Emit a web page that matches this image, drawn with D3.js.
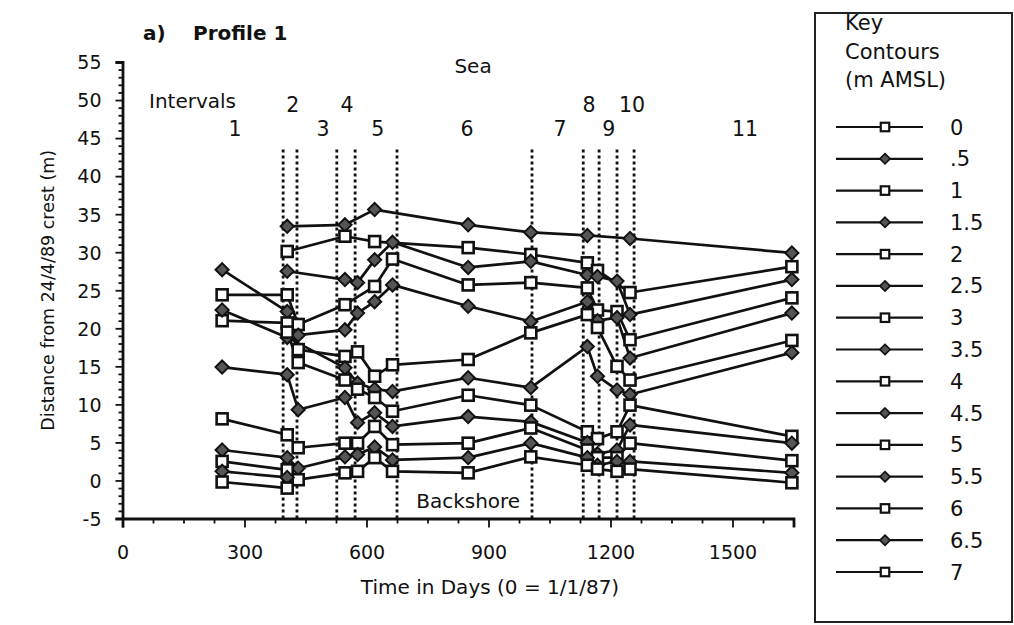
<!DOCTYPE html>
<html><head><meta charset="utf-8">
<script src="https://cdn.jsdelivr.net/npm/d3@7"></script>
<style>
body{margin:0;background:#fff;}
svg{display:block;font-family:"DejaVu Sans",sans-serif;}
</style></head><body>
<svg id="chart" width="1014" height="625"></svg>
<script>
// Survey dates (days since 1/1/87)
const surveyDays = [245, 405, 432, 547, 578, 620, 664, 850, 1004, 1143, 1168, 1216, 1248, 1646];

// Distance of each contour from the 24/4/89 crest (m), one value per survey date
const contour0   = [null, null, null, null, null, null, null, null, null, null, null, null, null, null];
const contour0_5 = [null, 33.4, null, 33.6, null, 35.6, null, 33.6, 32.6, 32.2, null, null, 31.8, 29.9];
const contour1   = [null, 30.1, null, 32.1, null, 31.4, null, 30.6, 29.7, 28.6, 27.6, null, 24.7, 28.1];
const contour1_5 = [null, 27.5, null, 26.4, 26.0, 29.0, 31.3, 28.0, 28.8, 27.0, 26.8, 26.2, 21.8, 26.4];
const contour2   = [24.4, 24.4, 20.5, 23.1, null, 25.5, 29.1, 25.7, 26.0, 25.3, 22.4, 22.2, 18.5, 24.0];
const contour2_5 = [27.7, 22.2, 19.1, 19.8, 22.0, 23.5, 25.7, 22.9, 20.9, 23.5, 21.0, 21.4, 16.1, 22.0];
const contour3   = [21.0, 20.7, 17.2, 16.3, 16.9, 13.7, 15.2, 15.9, 19.4, 21.8, 20.1, 15.0, 13.2, 18.4];
const contour3_5 = [22.4, 18.8, null, 14.8, 12.8, 12.0, 11.7, 13.5, 12.2, 17.6, 13.7, 11.9, 11.3, 16.8];
const contour4   = [null, 19.5, 15.5, 13.2, 12.0, 10.9, 9.1, 11.2, 9.9, 6.4, 5.5, 6.4, 9.9, 5.8];
const contour4_5 = [14.9, 13.9, 9.3, 10.9, 7.6, 8.9, 7.1, 8.4, 7.7, 5.0, 3.5, 4.0, 7.3, 4.9];
const contour5   = [8.1, 6.0, 4.3, 4.9, 4.9, 7.1, 4.7, 4.9, 6.9, 4.0, 3.0, 3.0, 4.9, 2.6];
const contour5_5 = [4.0, 3.0, 1.6, 3.1, 3.4, 4.4, 2.7, 3.0, 4.9, 3.0, 2.0, 2.5, 2.5, 1.0];
const contour6   = [2.5, 1.4, 0.1, 1.0, 1.2, 3.0, 1.2, 1.0, 3.1, 2.0, 1.5, 1.2, 1.5, -0.3];
const contour6_5 = [1.2, 0.4, null, null, null, null, null, null, null, null, null, null, null, null];
const contour7   = [-0.2, -1.0, null, null, null, null, null, null, null, null, null, null, null, null];

const contourLabels = ["0", ".5", "1", "1.5", "2", "2.5", "3", "3.5", "4", "4.5", "5", "5.5", "6", "6.5", "7"];
const contourValues = [contour0, contour0_5, contour1, contour1_5, contour2, contour2_5, contour3,
  contour3_5, contour4, contour4_5, contour5, contour5_5, contour6, contour6_5, contour7];

// Survey interval boundaries and interval numbering
const intervalBoundaries = [395, 429, 527, 572, 675, 1007, 1133, 1172, 1216, 1258];
const intervalNames = ["1", "2", "3", "4", "5", "6", "7", "8", "9", "10", "11"];
const intervalNameDays = [277, 419, 493, 552, 628, 847, 1076, 1147, 1196, 1253, 1531];
const intervalNameRow = [2, 1, 2, 1, 2, 2, 2, 1, 2, 1, 2];

// Axis ticks
const xMajorTicks = [0, 300, 600, 900, 1200, 1500];
const yMajorTicks = [-5, 0, 5, 10, 15, 20, 25, 30, 35, 40, 45, 50, 55];

const svg = d3.select("#chart");
const x = d3.scaleLinear().domain([0, 1650]).range([122.5, 793.5]);
const y = d3.scaleLinear().domain([-5, 55]).range([518.5, 62]);

const ink = "#111";

// ---- axes ----
const gx = svg.append("g").attr("transform", `translate(0,${y(-5)})`);
gx.call(d3.axisBottom(x).tickValues(d3.range(0, 1651, 75).filter(v => v % 300 !== 0)).tickSize(5).tickFormat(""));
gx.call(g => g.select(".domain").remove());
const gxMajor = svg.append("g").attr("transform", `translate(0,${y(-5)})`)
  .call(d3.axisBottom(x).tickValues(xMajorTicks).tickSize(9).tickFormat(d => String(d)));
gxMajor.select(".domain").attr("stroke-width", 2.8);
gxMajor.selectAll("text").attr("y", 40.5).attr("dy", "0").attr("font-size", 19);

const gyMinor = svg.append("g").attr("transform", `translate(${x(0)},0)`)
  .call(d3.axisLeft(y).tickValues(d3.range(-5, 56, 1).filter(v => v % 5 !== 0)).tickSize(4).tickFormat(""));
gyMinor.select(".domain").remove();
const gy = svg.append("g").attr("transform", `translate(${x(0)},0)`)
  .call(d3.axisLeft(y).tickValues(yMajorTicks).tickSize(7).tickPadding(14).tickFormat(d => String(d)));
gy.select(".domain").attr("stroke-width", 2.8);
gy.selectAll("text").attr("font-size", 19).attr("dy", "0.36em");

svg.selectAll(".tick line").attr("stroke", ink).attr("stroke-width", 1.8);
svg.selectAll(".tick text").attr("fill", ink).attr("font-family", "DejaVu Sans");
svg.selectAll(".domain").attr("stroke", ink);

// ---- axis titles ----
svg.append("text").attr("x", 490).attr("y", 594).attr("text-anchor", "middle")
  .attr("font-size", 20).attr("fill", ink).text("Time in Days (0 = 1/1/87)");
svg.append("text").attr("transform", `translate(54,${(y(-5) + y(55)) / 2}) rotate(-90)`)
  .attr("text-anchor", "middle").attr("font-size", 17.5).attr("fill", ink)
  .text("Distance from 24/4/89 crest (m)");

// ---- title ----
svg.append("text").attr("x", 143).attr("y", 40).attr("font-size", 20).attr("font-weight", "bold")
  .attr("fill", ink).text("a)");
svg.append("text").attr("x", 193).attr("y", 40).attr("font-size", 20).attr("font-weight", "bold")
  .attr("fill", ink).text("Profile 1");

// ---- annotations ----
svg.append("text").attr("x", x(862)).attr("y", 73).attr("text-anchor", "middle")
  .attr("font-size", 20).attr("fill", ink).text("Sea");
svg.append("text").attr("x", x(850)).attr("y", 508).attr("text-anchor", "middle")
  .attr("font-size", 20).attr("fill", ink).text("Backshore");
svg.append("text").attr("x", 149).attr("y", 108).attr("font-size", 20).attr("fill", ink).text("Intervals");
svg.selectAll("text.interval").data(intervalNames).join("text")
  .attr("class", "interval")
  .attr("x", (d, i) => x(intervalNameDays[i]))
  .attr("y", (d, i) => intervalNameRow[i] === 1 ? 112 : 136)
  .attr("text-anchor", "middle").attr("font-size", 20.5).attr("fill", ink)
  .text(d => d);

// ---- interval boundaries ----
svg.append("g").selectAll("line").data(intervalBoundaries).join("line")
  .attr("x1", d => x(d)).attr("x2", d => x(d))
  .attr("y1", y(43.5)).attr("y2", y(-5))
  .attr("stroke", ink).attr("stroke-width", 2.8).attr("stroke-dasharray", "3,3");

// ---- contour series ----
const series = contourLabels.map((label, i) => ({
  label,
  shape: label.includes(".5") ? "diamond" : "square",
  points: surveyDays.map((d, j) => ({ day: d, dist: contourValues[i][j] })).filter(p => p.dist !== null)
}));

const line = d3.line().x(p => x(p.day)).y(p => y(p.dist));
svg.append("g").selectAll("path").data(series).join("path")
  .attr("d", s => line(s.points)).attr("fill", "none")
  .attr("stroke", ink).attr("stroke-width", 2.7).attr("stroke-linejoin", "round");

function drawMarker(g, shape, cx, cy, size, sw) {
  if (shape === "square") {
    g.append("rect").attr("x", cx - size / 2).attr("y", cy - size / 2)
      .attr("width", size).attr("height", size)
      .attr("fill", "#fff").attr("stroke", ink).attr("stroke-width", sw);
  } else {
    const r = size * 0.6;
    g.append("path").attr("d", `M${cx},${cy - r}L${cx + r},${cy}L${cx},${cy + r}L${cx - r},${cy}Z`)
      .attr("fill", "#555").attr("stroke", ink).attr("stroke-width", sw * 0.75);
  }
}

const markers = svg.append("g");
series.forEach(s => s.points.forEach(p => drawMarker(markers, s.shape, x(p.day), y(p.dist), 11, 2.6)));

// ---- key ----
const key = svg.append("g");
key.append("rect").attr("x", 815).attr("y", 13).attr("width", 197).attr("height", 609)
  .attr("fill", "none").attr("stroke", "#222").attr("stroke-width", 2);
key.append("text").attr("x", 845).attr("y", 30).attr("font-size", 21).attr("fill", ink).text("Key");
key.append("text").attr("x", 845).attr("y", 59).attr("font-size", 21).attr("fill", ink).text("Contours");
key.append("text").attr("x", 845).attr("y", 87).attr("font-size", 21).attr("fill", ink).text("(m AMSL)");
const keyY = d3.scaleLinear().domain([0, contourLabels.length - 1]).range([127, 572]);
series.forEach((s, i) => {
  const cy = keyY(i);
  key.append("line").attr("x1", 836).attr("x2", 923).attr("y1", cy).attr("y2", cy)
    .attr("stroke", ink).attr("stroke-width", 2.2);
  drawMarker(key, s.shape, 885, cy, 8.5, 2.2);
  key.append("text").attr("x", 950).attr("y", cy).attr("dy", "0.36em")
    .attr("font-size", 21).attr("fill", ink).text(s.label);
});
</script>
</body></html>
